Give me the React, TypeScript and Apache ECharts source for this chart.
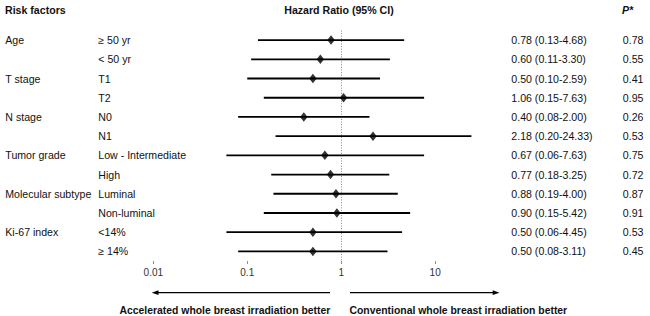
import { useEffect, useRef } from 'react';
import * as echarts from 'echarts';

const groups = ['Age', '', 'T stage', '', 'N stage', '', 'Tumor grade', '', 'Molecular subtype', '', 'Ki-67 index', ''];
const subgroups = ['≥ 50 yr', '< 50 yr', 'T1', 'T2', 'N0', 'N1', 'Low - Intermediate', 'High', 'Luminal', 'Non-luminal', '<14%', '≥ 14%'];
const hr = [0.78, 0.6, 0.5, 1.06, 0.4, 2.18, 0.67, 0.77, 0.88, 0.9, 0.5, 0.5];
const lower = [0.13, 0.11, 0.1, 0.15, 0.08, 0.2, 0.06, 0.18, 0.19, 0.15, 0.06, 0.08];
const upper = [4.68, 3.3, 2.59, 7.63, 2.0, 24.33, 7.63, 3.25, 4.0, 5.42, 4.45, 3.11];
const pValues = ['0.78', '0.55', '0.41', '0.95', '0.26', '0.53', '0.75', '0.72', '0.87', '0.91', '0.53', '0.45'];
const xTicks = [0.01, 0.1, 1, 10];

const FONT = '"Liberation Sans", Arial, sans-serif';
const TXT = '#111';

export default function App() {
  const ref = useRef<HTMLDivElement>(null);
  useEffect(() => {
    if (!ref.current) return;
    const chart = echarts.init(ref.current, null, { renderer: 'svg' });
    const ciLabels = hr.map((v, i) => `${v.toFixed(2)} (${lower[i].toFixed(2)}-${upper[i].toFixed(2)})`);
    const labelBase = { fontFamily: FONT, fontSize: 10.6, color: TXT, interval: 0, align: 'left' as const };
    const hiddenAxis = { axisLine: { show: false }, axisTick: { show: false }, splitLine: { show: false } };
    chart.setOption({
      animation: false,
      grid: { left: 153.3, top: 30.5, width: 347.5, height: 230.5, containLabel: false },
      xAxis: {
        type: 'log',
        logBase: 10,
        min: 0.01,
        max: 50,
        axisLine: { onZero: false, lineStyle: { color: '#8c8c8c', width: 1 } },
        axisTick: { show: true, customValues: xTicks, length: 3, lineStyle: { color: '#8c8c8c' } },
        axisLabel: {
          customValues: xTicks,
          formatter: (v: number) => String(Number(Number(v).toPrecision(6))),
          fontFamily: FONT,
          fontSize: 10,
          color: '#333',
          margin: 6,
        },
        splitLine: { show: false },
      },
      yAxis: [
        { type: 'category', data: subgroups, inverse: true, position: 'left', ...hiddenAxis, axisLabel: { ...labelBase, margin: 55 } },
        { type: 'category', data: groups, inverse: true, position: 'left', ...hiddenAxis, axisLabel: { ...labelBase, margin: 148 } },
        { type: 'category', data: ciLabels, inverse: true, position: 'right', ...hiddenAxis, axisLabel: { ...labelBase, margin: 10.5 } },
        { type: 'category', data: pValues, inverse: true, position: 'right', ...hiddenAxis, axisLabel: { ...labelBase, margin: 122 } },
      ],
      series: [
        {
          type: 'custom',
          xAxisIndex: 0,
          yAxisIndex: 0,
          encode: { x: [0, 1], y: 2 },
          data: lower.map((lo, i) => [lo, upper[i], i]),
          renderItem: (_params: any, api: any) => {
            const p1 = api.coord([api.value(0), api.value(2)]);
            const p2 = api.coord([api.value(1), api.value(2)]);
            return {
              type: 'line',
              shape: { x1: p1[0], y1: p1[1], x2: p2[0], y2: p2[1] },
              style: { stroke: '#000', lineWidth: 1.8 },
            };
          },
          z: 2,
        },
        {
          type: 'scatter',
          xAxisIndex: 0,
          yAxisIndex: 0,
          data: hr.map((v, i) => [v, i]),
          symbol: 'diamond',
          symbolSize: [7.5, 9.5],
          itemStyle: { color: '#000' },
          z: 3,
          markLine: {
            silent: true,
            symbol: 'none',
            label: { show: false },
            lineStyle: { type: [1, 1.6], color: '#888', width: 1 },
            data: [{ xAxis: 1 }],
            z: 1,
          },
        },
      ],
      graphic: [
        { type: 'text', x: 5, y: 9.5, style: { text: 'Risk factors', font: `bold 10.6px ${FONT}`, fill: TXT, verticalAlign: 'middle' } },
        { type: 'text', x: 339, y: 9.5, style: { text: 'Hazard Ratio (95% CI)', font: `bold 10.6px ${FONT}`, fill: TXT, align: 'center', verticalAlign: 'middle' } },
        { type: 'text', x: 622, y: 9.5, style: { text: 'P*', font: `italic bold 10.6px ${FONT}`, fill: TXT, verticalAlign: 'middle' } },
        { type: 'line', shape: { x1: 156, y1: 292.7, x2: 330, y2: 292.7 }, style: { stroke: '#000', lineWidth: 1.3 } },
        { type: 'polygon', shape: { points: [[151.7, 292.7], [158.5, 290.3], [158.5, 295.1]] }, style: { fill: '#000' } },
        { type: 'line', shape: { x1: 350, y1: 292.7, x2: 495, y2: 292.7 }, style: { stroke: '#000', lineWidth: 1.3 } },
        { type: 'polygon', shape: { points: [[499.5, 292.7], [492.7, 290.3], [492.7, 295.1]] }, style: { fill: '#000' } },
        { type: 'text', x: 119.5, y: 310, style: { text: 'Accelerated whole breast irradiation better', font: `bold 10.4px ${FONT}`, fill: TXT, verticalAlign: 'middle' } },
        { type: 'text', x: 349.5, y: 310, style: { text: 'Conventional whole breast irradiation better', font: `bold 10.4px ${FONT}`, fill: TXT, verticalAlign: 'middle' } },
      ],
    });
    return () => chart.dispose();
  }, []);
  return <div ref={ref} style={{ position: 'fixed', left: 0, top: 0, width: 650, height: 316, background: '#fff' }} />;
}
